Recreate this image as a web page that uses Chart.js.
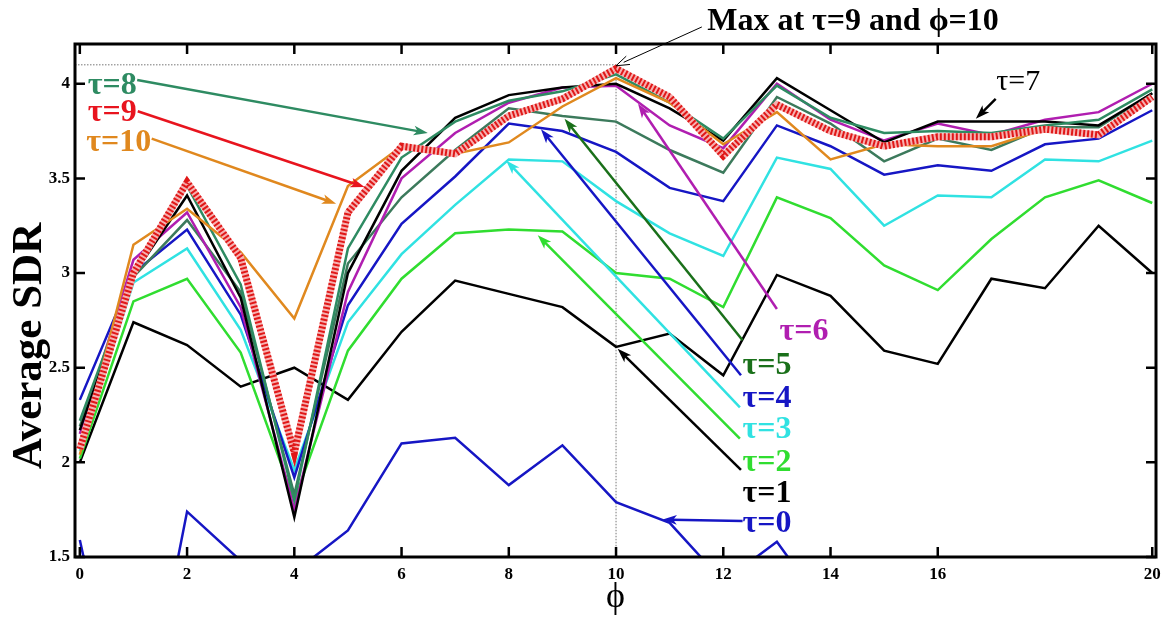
<!DOCTYPE html>
<html>
<head>
<meta charset="utf-8">
<script src="https://cdn.jsdelivr.net/npm/chart.js@4"></script>
<style>
  html, body { margin: 0; padding: 0; background: #fff; }
</style>
</head>
<body>
<canvas id="sdrChart" width="1173" height="618"></canvas>
<script>
// ---------------------------------------- data ----------------------------------------
const phi = [0, 1, 2, 3, 4, 5, 6, 7, 8, 9, 10, 11, 12, 13, 14, 15, 16, 17, 18, 19, 20];

const tau0  = [1.59, 0.30, 1.74, 1.48, 1.42, 1.64, 2.10, 2.13, 1.88, 2.09, 1.79, 1.68, 1.37, 1.58, 1.19, null, null, null, null, null, null];
const tau1  = [2.00, 2.74, 2.62, 2.40, 2.50, 2.33, 2.69, 2.96, 2.89, 2.82, 2.61, 2.68, 2.46, 2.99, 2.88, 2.59, 2.52, 2.97, 2.92, 3.25, 3.00];
const tau2  = [2.02, 2.85, 2.97, 2.58, 1.80, 2.59, 2.97, 3.21, 3.23, 3.22, 3.00, 2.97, 2.82, 3.40, 3.29, 3.04, 2.91, 3.18, 3.40, 3.49, 3.37];
const tau3  = [2.06, 2.95, 3.13, 2.70, 1.96, 2.74, 3.10, 3.36, 3.60, 3.59, 3.38, 3.21, 3.09, 3.61, 3.55, 3.25, 3.41, 3.40, 3.60, 3.59, 3.70];
const tau4  = [2.33, 3.00, 3.23, 2.78, 1.92, 2.83, 3.26, 3.51, 3.79, 3.75, 3.64, 3.45, 3.38, 3.78, 3.67, 3.52, 3.57, 3.54, 3.68, 3.71, 3.86];
const tau5  = [2.19, 2.98, 3.28, 2.90, 1.83, 3.05, 3.40, 3.65, 3.87, 3.83, 3.80, 3.65, 3.53, 3.93, 3.79, 3.59, 3.71, 3.65, 3.77, 3.77, 3.95];
const tau6  = [2.15, 3.07, 3.32, 2.82, 1.75, 2.90, 3.50, 3.74, 3.90, 3.98, 3.99, 3.78, 3.66, 4.00, 3.81, 3.70, 3.79, 3.73, 3.81, 3.85, 4.00];
const tau7  = [2.17, 2.99, 3.41, 2.87, 1.71, 3.00, 3.54, 3.82, 3.94, 3.98, 4.00, 3.87, 3.70, 4.03, 3.86, 3.69, 3.80, 3.80, 3.80, 3.78, 3.95];
const tau8  = [2.22, 2.99, 3.46, 2.94, 1.80, 3.13, 3.61, 3.80, 3.91, 3.96, 4.05, 3.90, 3.71, 3.99, 3.82, 3.74, 3.75, 3.74, 3.78, 3.81, 3.97];
const tau9  = [2.07, 3.00, 3.48, 3.08, 2.05, 3.32, 3.67, 3.63, 3.83, 3.92, 4.08, 3.93, 3.62, 3.89, 3.75, 3.67, 3.72, 3.72, 3.76, 3.73, 3.93];
const tau10 = [2.04, 3.15, 3.34, 3.11, 2.76, 3.46, 3.67, 3.63, 3.69, 3.88, 4.03, 3.90, 3.68, 3.85, 3.60, 3.68, 3.67, 3.67, 3.76, 3.72, 3.92];

const xTicks = [0, 2, 4, 6, 8, 10, 12, 14, 16, 20];
const yTicks = [1.5, 2, 2.5, 3, 3.5, 4];

// max point marked with the dotted guide lines
const maxPhi = 10;
const maxSdr = 4.1;

// ---------------------------------------- styles ----------------------------------------
const serif = '"Liberation Serif", "Times New Roman", serif';

function pts(arr) {
    return arr.map((v, i) => ({ x: phi[i], y: v }));
}

function line(label, arr, color, order) {
    return {
        label: label,
        data: pts(arr),
        borderColor: color,
        borderWidth: 2.5,
        pointRadius: 0,
        fill: false,
        tension: 0,
        order: order
    };
}

const datasets = [
    // tau=9 is the thick hatched red line, drawn on top of the rest
    Object.assign(line('τ=9 hatch', tau9, '#e01818', 0), { borderWidth: 7, borderDash: [2, 2] }),
    Object.assign(line('τ=9', tau9, '#f6b0b0', 1), { borderWidth: 7 }),
    line('τ=10', tau10, '#e0891f', 2),
    line('τ=8', tau8, '#2e8b62', 3),
    line('τ=7', tau7, '#000000', 4),
    line('τ=6', tau6, '#b01eb0', 5),
    line('τ=5', tau5, '#3c7a5c', 6),
    line('τ=4', tau4, '#1616c4', 7),
    line('τ=3', tau3, '#30e2e2', 8),
    line('τ=2', tau2, '#30dd30', 9),
    line('τ=1', tau1, '#000000', 10),
    line('τ=0', tau0, '#1616c4', 11)
];

// annotations: label text, where it sits and where its arrow points (data units)
const notes = [
    { text: 'τ=8', color: '#2e8b62', at: [0.15, 3.99], from: [1.07, 4.02], to: [6.49, 3.74] },
    { text: 'τ=9', color: '#e8141e', at: [0.15, 3.845], from: [1.08, 3.855], to: [5.31, 3.454] },
    { text: 'τ=10', color: '#e0881e', at: [0.12, 3.69], from: [1.34, 3.71], to: [4.78, 3.366] },
    { text: 'τ=7', color: '#000000', at: [17.09, 4.01], from: [17.08, 3.92], to: [16.71, 3.815], normal: true, small: true },
    { text: 'τ=6', color: '#b01eb0', at: [13.05, 2.69], from: [13.0, 2.81], to: [10.41, 3.894] },
    { text: 'τ=5', color: '#1a701a', at: [12.36, 2.513], from: [12.36, 2.645], to: [9.04, 3.815] },
    { text: 'τ=4', color: '#1616c4', at: [12.36, 2.337], from: [12.33, 2.46], to: [8.6, 3.76] },
    { text: 'τ=3', color: '#30e2e2', at: [12.36, 2.17], from: [12.31, 2.29], to: [7.95, 3.595] },
    { text: 'τ=2', color: '#30dd30', at: [12.36, 2.0], from: [12.31, 2.125], to: [8.54, 3.2] },
    { text: 'τ=1', color: '#000000', at: [12.36, 1.835], from: [12.33, 1.96], to: [10.03, 2.6] },
    { text: 'τ=0', color: '#1616c4', at: [12.36, 1.677], from: [12.36, 1.69], to: [10.87, 1.698] }
];

function arrow(ctx, x1, y1, x2, y2, color, w, head, open) {
    const a = Math.atan2(y2 - y1, x2 - x1);
    ctx.save();
    ctx.strokeStyle = color;
    ctx.fillStyle = color;
    ctx.lineWidth = w;
    ctx.beginPath();
    ctx.moveTo(x1, y1);
    ctx.lineTo(x2 - Math.cos(a) * head * 0.6, y2 - Math.sin(a) * head * 0.6);
    ctx.stroke();
    ctx.beginPath();
    ctx.moveTo(x2, y2);
    ctx.lineTo(x2 - head * Math.cos(a - 0.33), y2 - head * Math.sin(a - 0.33));
    if (open) {
        ctx.moveTo(x2, y2);
        ctx.lineTo(x2 - head * Math.cos(a + 0.33), y2 - head * Math.sin(a + 0.33));
        ctx.stroke();
    } else {
        ctx.lineTo(x2 - head * 0.7 * Math.cos(a), y2 - head * 0.7 * Math.sin(a));
        ctx.lineTo(x2 - head * Math.cos(a + 0.33), y2 - head * Math.sin(a + 0.33));
        ctx.closePath();
        ctx.fill();
    }
    ctx.restore();
}

// guide lines behind the data
const guides = {
    id: 'guides',
    beforeDatasetsDraw(chart) {
        const { ctx, chartArea: a, scales: { x, y } } = chart;
        ctx.save();
        ctx.strokeStyle = '#777';
        ctx.lineWidth = 1;
        ctx.setLineDash([1.5, 1.5]);
        ctx.beginPath();
        ctx.moveTo(a.left, y.getPixelForValue(maxSdr));
        ctx.lineTo(x.getPixelForValue(maxPhi), y.getPixelForValue(maxSdr));
        ctx.moveTo(x.getPixelForValue(maxPhi), y.getPixelForValue(maxSdr));
        ctx.lineTo(x.getPixelForValue(maxPhi), a.bottom);
        ctx.stroke();
        ctx.restore();
    }
};

// frame, inward ticks, titles and tau labels
const decor = {
    id: 'decor',
    afterDraw(chart) {
        const { ctx, chartArea: a, scales: { x, y } } = chart;
        ctx.save();
        ctx.strokeStyle = '#000';
        ctx.lineWidth = 2.5;
        xTicks.forEach(t => {
            const px = x.getPixelForValue(t);
            ctx.beginPath();
            ctx.moveTo(px, a.bottom); ctx.lineTo(px, a.bottom - 10);
            ctx.moveTo(px, a.top); ctx.lineTo(px, a.top + 10);
            ctx.stroke();
        });
        yTicks.forEach(t => {
            const py = y.getPixelForValue(t);
            ctx.beginPath();
            ctx.moveTo(a.left, py); ctx.lineTo(a.left + 10, py);
            ctx.moveTo(a.right, py); ctx.lineTo(a.right - 10, py);
            ctx.stroke();
        });
        ctx.lineWidth = 3;
        ctx.strokeRect(a.left, a.top, a.right - a.left, a.bottom - a.top);

        // arrows and labels
        notes.forEach(n => {
            arrow(ctx, x.getPixelForValue(n.from[0]), y.getPixelForValue(n.from[1]),
                x.getPixelForValue(n.to[0]), y.getPixelForValue(n.to[1]), n.color, 2.5, 15, false);
            ctx.fillStyle = n.color;
            ctx.font = (n.normal ? '' : 'bold ') + (n.small ? '30px ' : '32px ') + serif;
            ctx.textAlign = 'left';
            ctx.textBaseline = 'middle';
            ctx.fillText(n.text, x.getPixelForValue(n.at[0]), y.getPixelForValue(n.at[1]));
        });

        // max annotation
        arrow(ctx, x.getPixelForValue(11.6), y.getPixelForValue(4.3),
            x.getPixelForValue(maxPhi), y.getPixelForValue(maxSdr - 0.005), '#000', 1, 14, true);
        ctx.fillStyle = '#000';
        ctx.font = 'bold 32px ' + serif;
        ctx.textAlign = 'left';
        ctx.textBaseline = 'middle';
        ctx.fillText('Max at τ=9 and ϕ=10', x.getPixelForValue(11.7), 22);

        // axis titles
        ctx.font = '36px ' + serif;
        ctx.textAlign = 'center';
        ctx.fillText('ϕ', (a.left + a.right) / 2, 598);
        ctx.translate(41, 346);
        ctx.rotate(-Math.PI / 2);
        ctx.textBaseline = 'alphabetic';
        ctx.font = 'bold 43px ' + serif;
        ctx.fillText('Average SDR', 0, 0);
        ctx.restore();
    }
};

new Chart('sdrChart', {
    type: 'line',
    data: { datasets: datasets },
    options: {
        responsive: false,
        animation: false,
        events: [],
        layout: { padding: { top: 44, right: 17, left: 0, bottom: 0 } },
        plugins: { legend: { display: false }, tooltip: { enabled: false } },
        scales: {
            x: {
                type: 'linear',
                min: -0.09,
                max: 20.07,
                afterBuildTicks: s => { s.ticks = xTicks.map(v => ({ value: v })); },
                afterFit: s => { s.height = 61; },
                grid: { display: false, drawTicks: false },
                border: { display: false },
                ticks: {
                    color: '#000', padding: 7,
                    font: { family: serif, size: 17, weight: 'bold' },
                    callback: v => String(v)
                }
            },
            y: {
                min: 1.5,
                max: 4.21,
                afterBuildTicks: s => { s.ticks = yTicks.map(v => ({ value: v })); },
                afterFit: s => { s.width = 75; },
                grid: { display: false, drawTicks: false },
                border: { display: false },
                ticks: {
                    color: '#000', padding: 5,
                    font: { family: serif, size: 17, weight: 'bold' },
                    callback: v => String(v)
                }
            }
        }
    },
    plugins: [guides, decor]
});
</script>
</body>
</html>
